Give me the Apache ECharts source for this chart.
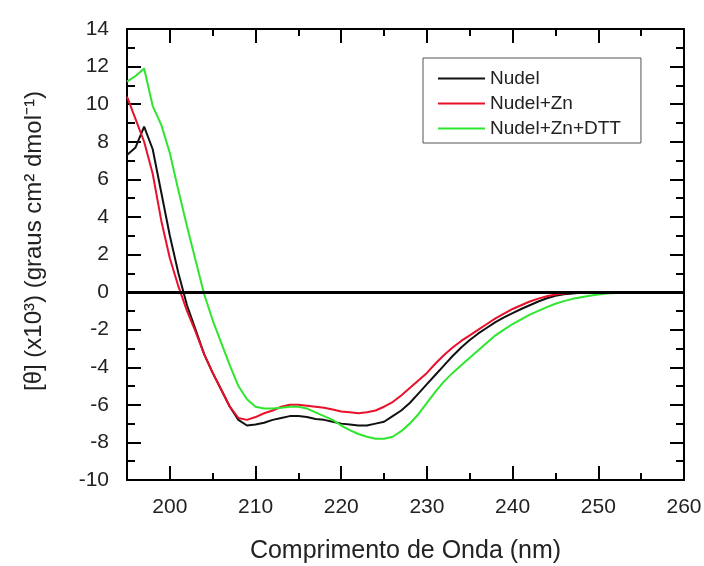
<!DOCTYPE html>
<html>
<head>
<meta charset="utf-8">
<script src="https://cdn.jsdelivr.net/npm/echarts@6/dist/echarts.min.js"></script>
<style>
html, body { margin: 0; padding: 0; background: #fff; }
#chart { width: 704px; height: 566px; }
</style>
</head>
<body>
<div id="chart"></div>
<script>
// wavelength (nm)
var wavelength = [195, 196, 197, 198, 199, 200, 201, 202, 203, 204, 205, 206, 207, 208, 209,
    210, 211, 212, 213, 214, 215, 216, 217, 218, 219, 220, 221, 222, 223, 224,
    225, 226, 227, 228, 229, 230, 231, 232, 233, 234, 235, 236, 237, 238, 239,
    240, 241, 242, 243, 244, 245, 246, 247, 248, 249, 250, 251, 252, 253, 254,
    255, 256, 257, 258, 259, 260];

var nudel = [7.3, 7.7, 8.8, 7.6, 5.3, 3.0, 1.0, -0.7, -2.0, -3.3, -4.3, -5.2, -6.1, -6.8, -7.1,
    -7.05, -6.95, -6.8, -6.7, -6.6, -6.6, -6.65, -6.75, -6.8, -6.9, -7.0, -7.05, -7.1, -7.1, -7.0,
    -6.9, -6.6, -6.3, -5.9, -5.4, -4.9, -4.4, -3.9, -3.4, -2.95, -2.55, -2.2, -1.9, -1.6, -1.35,
    -1.12, -0.9, -0.7, -0.5, -0.33, -0.2, -0.12, -0.07, -0.04, -0.02, 0, 0, 0, 0, 0,
    0, 0, 0, 0, 0, 0];

var nudelZn = [10.4, 9.2, 8.0, 6.3, 3.8, 1.8, 0.3, -1.0, -2.1, -3.3, -4.3, -5.2, -6.1, -6.7, -6.8,
    -6.65, -6.45, -6.3, -6.1, -6.0, -6.0, -6.05, -6.1, -6.15, -6.25, -6.35, -6.4, -6.45, -6.4, -6.3,
    -6.1, -5.85, -5.5, -5.1, -4.7, -4.3, -3.8, -3.35, -2.95, -2.6, -2.3, -2.0, -1.7, -1.4, -1.15,
    -0.9, -0.7, -0.5, -0.35, -0.22, -0.13, -0.07, -0.04, -0.02, 0, 0, 0, 0, 0, 0,
    0, 0, 0, 0, 0, 0];

var nudelZnDtt = [11.2, 11.5, 11.9, 9.9, 8.9, 7.4, 5.4, 3.5, 1.7, -0.1, -1.5, -2.7, -3.9, -5.0, -5.7,
    -6.1, -6.2, -6.2, -6.15, -6.1, -6.1, -6.2, -6.4, -6.6, -6.8, -7.1, -7.35, -7.55, -7.7, -7.8,
    -7.8, -7.7, -7.4, -7.0, -6.5, -5.9, -5.3, -4.75, -4.3, -3.9, -3.5, -3.1, -2.7, -2.3, -2.0,
    -1.7, -1.45, -1.2, -1.0, -0.8, -0.62, -0.48, -0.36, -0.27, -0.19, -0.13, -0.08, -0.05, -0.03, -0.01,
    0, 0, 0, 0, 0, 0];

var xMajorTicks = [200, 210, 220, 230, 240, 250, 260];
var xMinorTicks = [205, 215, 225, 235, 245, 255];

function pairs(ys) {
    return wavelength.map(function (w, i) { return [w, ys[i]]; });
}

var font = 'Arial, "Liberation Sans", sans-serif';
var black = '#000';
var textColor = '#222';

function xAxisDef(position, ticks, len, main) {
    return {
        type: 'value',
        position: position,
        min: 195,
        max: 260,
        axisLine: { show: main, onZero: false, lineStyle: { color: black, width: 2 } },
        axisTick: { inside: true, length: len, customValues: ticks, lineStyle: { color: black, width: 2 } },
        axisLabel: main && position === 'bottom' ? {
            customValues: xMajorTicks, color: textColor, fontSize: 21, fontFamily: font, margin: 17
        } : { show: false },
        splitLine: { show: false }
    };
}

function yAxisDef(position) {
    return {
        type: 'value',
        position: position,
        min: -10,
        max: 14,
        interval: 2,
        axisLine: { show: true, onZero: false, lineStyle: { color: black, width: 2 } },
        axisTick: { inside: true, length: 14, lineStyle: { color: black, width: 2 } },
        minorTick: { show: true, splitNumber: 2, length: 8, lineStyle: { color: black, width: 2 } },
        axisLabel: position === 'left' ? {
            color: textColor, fontSize: 21, fontFamily: font, margin: 18
        } : { show: false },
        splitLine: { show: false },
        minorSplitLine: { show: false }
    };
}

var chart = echarts.init(document.getElementById('chart'));

var bottomMain = xAxisDef('bottom', xMajorTicks, 14, true);
bottomMain.name = 'Comprimento de Onda (nm)';
bottomMain.nameLocation = 'middle';
bottomMain.nameGap = 59;
bottomMain.nameTextStyle = { color: textColor, fontSize: 25, fontFamily: font };

var leftMain = yAxisDef('left');
leftMain.name = '[\u03b8] (x10\u00b3) (graus cm\u00b2 dmol\u207b\u00b9)';
leftMain.nameLocation = 'middle';
leftMain.nameGap = 81;
leftMain.nameTextStyle = { color: textColor, fontSize: 24, fontFamily: font, padding: [0, 0, 0, 27] };

chart.setOption({
    backgroundColor: '#fff',
    animation: false,
    grid: { left: 127, right: 20, top: 29, bottom: 86, containLabel: false, outerBoundsMode: 'none' },
    legend: {
        orient: 'vertical',
        left: 423,
        top: 58,
        padding: [11, 20, 5, 15],
        icon: 'rect',
        itemWidth: 47,
        itemHeight: 2,
        itemGap: 6,
        borderColor: '#555',
        borderWidth: 1,
        textStyle: { color: textColor, fontSize: 19, fontFamily: font },
        data: ['Nudel', 'Nudel+Zn', 'Nudel+Zn+DTT']
    },
    xAxis: [
        bottomMain,
        xAxisDef('bottom', xMinorTicks, 7, false),
        xAxisDef('top', xMajorTicks, 14, true),
        xAxisDef('top', xMinorTicks, 7, false)
    ],
    yAxis: [leftMain, yAxisDef('right')],
    series: [
        {
            name: 'Nudel',
            type: 'line',
            symbol: 'none',
            lineStyle: { color: '#111', width: 2 },
            itemStyle: { color: '#111' },
            data: pairs(nudel),
            markLine: {
                silent: true,
                symbol: 'none',
                label: { show: false },
                lineStyle: { color: black, width: 3, type: 'solid' },
                data: [{ yAxis: 0 }]
            }
        },
        {
            name: 'Nudel+Zn',
            type: 'line',
            symbol: 'none',
            lineStyle: { color: '#e8102a', width: 2 },
            itemStyle: { color: '#e8102a' },
            data: pairs(nudelZn)
        },
        {
            name: 'Nudel+Zn+DTT',
            type: 'line',
            symbol: 'none',
            lineStyle: { color: '#2ee62e', width: 2 },
            itemStyle: { color: '#2ee62e' },
            data: pairs(nudelZnDtt)
        }
    ]
});
</script>
</body>
</html>
